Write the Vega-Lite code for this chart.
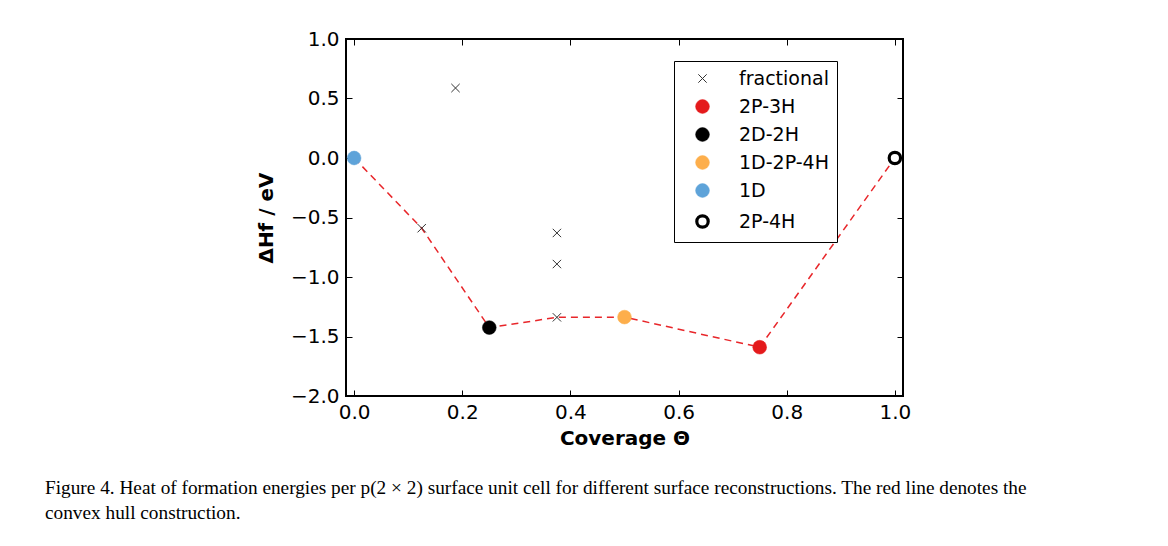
{
  "$schema": "https://vega.github.io/schema/vega-lite/v6.json",
  "width": 557,
  "height": 357,
  "autosize": {"type": "none"},
  "padding": {"left": 346, "top": 39, "right": 265, "bottom": 150},
  "background": "white",
  "config": {
    "view": {"stroke": "black", "strokeWidth": 2},
    "axis": {
      "domain": false,
      "grid": false,
      "tickSize": -6,
      "tickWidth": 1,
      "tickColor": "black",
      "labelFont": "DejaVu Sans",
      "labelFontSize": 20,
      "labelColor": "black",
      "titleFont": "DejaVu Sans",
      "titleFontSize": 20,
      "titleFontWeight": "bold",
      "titleColor": "black"
    },
    "legend": {
      "orient": "none",
      "legendX": 328,
      "legendY": 22,
      "strokeColor": "black",
      "strokeWidth": 1,
      "fillColor": "white",
      "cornerRadius": 0,
      "padding": 8,
      "symbolOffset": 11,
      "labelFont": "DejaVu Sans",
      "labelFontSize": 19,
      "labelColor": "black",
      "labelOffset": 27,
      "rowPadding": 8
    }
  },
  "title": {
    "text": ["Figure 4. Heat of formation energies per p(2 × 2) surface unit cell for different surface reconstructions. The red line denotes the", "convex hull construction."],
    "orient": "bottom",
    "anchor": "start",
    "frame": "group",
    "dx": -301,
    "offset": 31,
    "font": "Liberation Serif",
    "fontSize": 19.3,
    "fontWeight": "normal",
    "color": "black",
    "lineHeight": 25,
    "baseline": "top"
  },
  "layer": [
    {
      "data": {"values": [
        {"theta": 0.0, "dH": 0.0},
        {"theta": 0.125, "dH": -0.59},
        {"theta": 0.25, "dH": -1.425},
        {"theta": 0.375, "dH": -1.339},
        {"theta": 0.5, "dH": -1.337},
        {"theta": 0.75, "dH": -1.59},
        {"theta": 1.0, "dH": 0.0}
      ]},
      "mark": {"type": "line", "color": "#e8262a", "strokeWidth": 1.5, "strokeDash": [7, 5]},
      "encoding": {
        "x": {"field": "theta", "type": "quantitative",
              "scale": {"domain": [-0.015, 1.015], "nice": false, "zero": false},
              "axis": {"orient": "top", "labels": false, "title": null, "values": [0, 0.2, 0.4, 0.6, 0.8, 1.0]}},
        "y": {"field": "dH", "type": "quantitative",
              "scale": {"domain": [-2, 1], "nice": false, "zero": false},
              "axis": {"orient": "right", "labels": false, "title": null, "values": [-2, -1.5, -1, -0.5, 0, 0.5, 1]}},
        "order": {"field": "theta"}
      }
    },
    {
      "data": {"values": [
        {"theta": 0.125, "dH": -0.59, "series": "fractional"},
        {"theta": 0.1875, "dH": 0.588, "series": "fractional"},
        {"theta": 0.375, "dH": -0.63, "series": "fractional"},
        {"theta": 0.375, "dH": -0.891, "series": "fractional"},
        {"theta": 0.375, "dH": -1.339, "series": "fractional"},
        {"theta": 0.75, "dH": -1.59, "series": "2P-3H"},
        {"theta": 0.25, "dH": -1.425, "series": "2D-2H"},
        {"theta": 0.5, "dH": -1.337, "series": "1D-2P-4H"},
        {"theta": 0.0, "dH": 0.0, "series": "1D"},
        {"theta": 1.0, "dH": 0.0, "series": "2P-4H"}
      ]},
      "mark": {"type": "point", "filled": true, "opacity": 1},
      "encoding": {
        "x": {"field": "theta", "type": "quantitative",
              "axis": {"orient": "bottom", "title": "Coverage Θ", "values": [0, 0.2, 0.4, 0.6, 0.8, 1.0], "format": ".1f", "labelPadding": 12, "titlePadding": 6}},
        "y": {"field": "dH", "type": "quantitative",
              "axis": {"orient": "left", "title": "ΔHf / eV", "values": [-2, -1.5, -1, -0.5, 0, 0.5, 1], "format": ".1f", "labelPadding": 13, "titlePadding": 14}},
        "shape": {"field": "series", "type": "nominal",
                  "scale": {"domain": ["fractional", "2P-3H", "2D-2H", "1D-2P-4H", "1D", "2P-4H"],
                            "range": ["M-1,-1L1,1M-1,1L1,-1", "circle", "circle", "circle", "circle", "circle"]},
                  "legend": {"title": null}},
        "fill": {"field": "series", "type": "nominal",
                 "scale": {"domain": ["fractional", "2P-3H", "2D-2H", "1D-2P-4H", "1D", "2P-4H"],
                           "range": ["#333333", "#e41a1c", "#000000", "#fdae4b", "#5ea3d9", "#ffffff"]},
                 "legend": {"title": null}},
        "stroke": {"field": "series", "type": "nominal",
                   "scale": {"domain": ["fractional", "2P-3H", "2D-2H", "1D-2P-4H", "1D", "2P-4H"],
                             "range": ["#333333", "#e41a1c", "#000000", "#fdae4b", "#5ea3d9", "#000000"]},
                   "legend": {"title": null}},
        "strokeWidth": {"field": "series", "type": "nominal",
                        "scale": {"type": "ordinal", "domain": ["fractional", "2P-3H", "2D-2H", "1D-2P-4H", "1D", "2P-4H"],
                                  "range": [1, 0.5, 0.5, 0.5, 0.5, 3.2]},
                        "legend": {"title": null}},
        "size": {"field": "series", "type": "nominal",
                 "scale": {"type": "ordinal", "domain": ["fractional", "2P-3H", "2D-2H", "1D-2P-4H", "1D", "2P-4H"],
                           "range": [70, 190, 190, 190, 190, 130]},
                 "legend": {"title": null}}
      }
    }
  ],
  "resolve": {"axis": {"x": "independent", "y": "independent"}}
}
